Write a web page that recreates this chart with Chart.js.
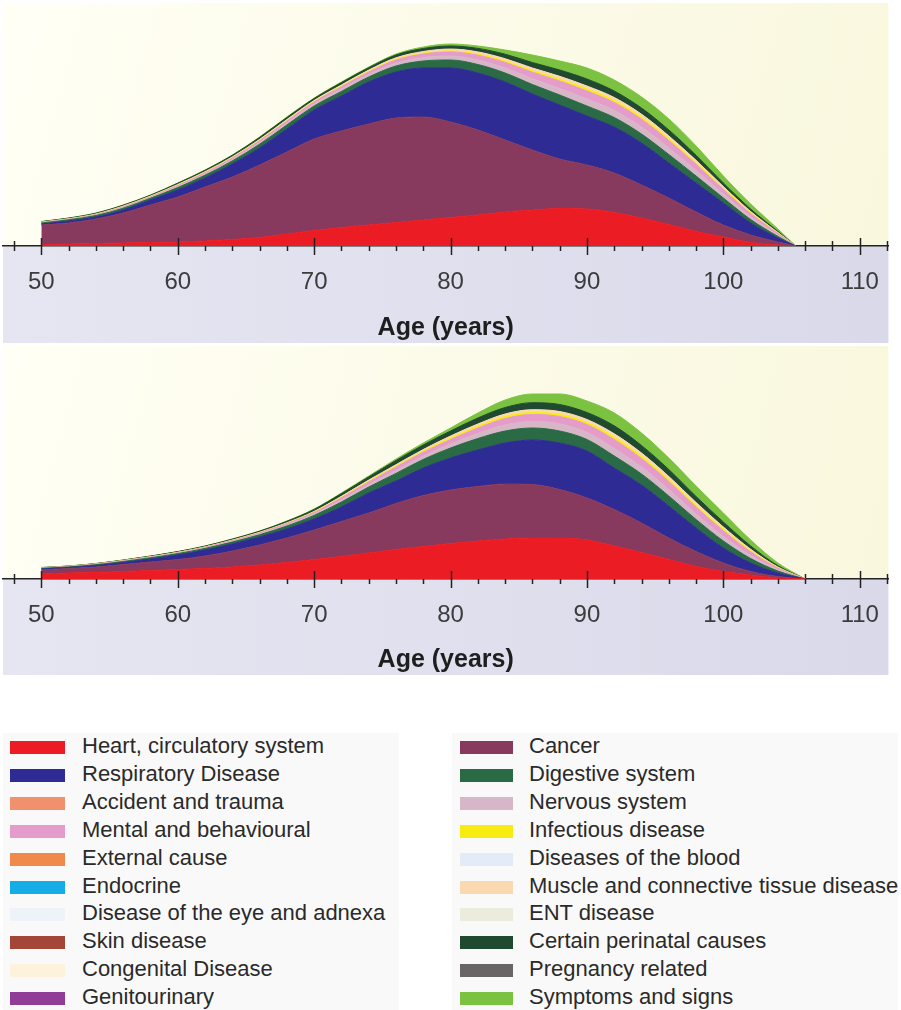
<!DOCTYPE html>
<html>
<head>
<meta charset="utf-8">
<script src="https://cdn.jsdelivr.net/npm/chart.js@4.4.0/dist/chart.umd.min.js"></script>
<style>
  body { margin: 0; width: 901px; height: 1010px; background: #fff; position: relative; overflow: hidden;
         font-family: "Liberation Sans", Arial, sans-serif; }
  .wrap { position: absolute; left: 0; width: 901px; }
  #topWrap { top: 0; height: 345px; }
  #bottomWrap { top: 345px; height: 332px; }
  .lgBox { position: absolute; top: 733px; height: 277px; background: #faf9f9; }
  .lgRow { position: absolute; height: 28px; line-height: 28px; font-size: 22px; color: #2a2a2a; white-space: nowrap; }
  .sw { position: absolute; top: 8px; height: 13px; }
  .txt { position: absolute; top: -1px; }
</style>
</head>
<body>
<div class="wrap" id="topWrap"><canvas id="topChart"></canvas></div>
<div class="wrap" id="bottomWrap"><canvas id="bottomChart"></canvas></div>
<div class="lgBox" style="left:3px;width:396px"></div>
<div class="lgBox" style="left:452px;width:446px"></div>
<div id="legend"></div>

<script>
// ages (x values) for each panel
const agesTop    = [50,52,54,56,58,60,62,64,66,68,70,72,74,76,78,80,82,84,86,88,90,92,94,96,98,100,102,104,105.3];
const agesBottom = [50,52,54,56,58,60,62,64,66,68,70,72,74,76,78,80,82,84,86,88,90,92,94,96,98,100,102,104,106];
const ageTicks = [50, 60, 70, 80, 90, 100, 110];

// top panel, stacked from the axis up
const heartTop      = [1.5,2,2.5,3,3.5,4,5,6.5,8.5,12,15.5,18.5,21,23.5,26,28.5,31,34,36,37.5,37,33.5,28,21.5,14.5,9,3.5,1,0];
const cancerTop     = [19.5,21,24.5,30,37.5,45,54,62.5,72.5,82,91.5,96.5,101,104.5,103,95.5,85,72,60,49.5,44,39.5,33,26.5,19.5,12,7.5,3,0];
const respTop       = [1,2,2,3,5,7,9,13,17,23,29,35,42,46,49,54,57,58,56,54,49,46,42,35,29,22,12,4,0];
const digestiveTop  = [1,1.2,1.5,1.8,1.8,2.5,2.8,3.1,3.8,4.1,4,4.6,5,6,7,8,8.5,9,9.5,10,10,9.5,9,8.5,7,5,3.5,1.6,0];
const nervousTop    = [0.3,0.4,0.5,0.7,0.7,1,1.2,1.4,1.7,1.9,2,2.3,2.5,3,3.5,4,4.5,5,5.8,6.5,7,7,7,6.5,5.5,4,2.8,1.3,0];
const mentalTop     = [0.3,0.3,0.5,0.7,0.7,1,1.2,1.4,1.7,1.9,2,2.3,2.5,3,3.5,4,4.8,5.6,6.5,7.5,8,8,7.8,7.5,6.3,4.6,3.2,1.5,0];
const infectiousTop = [0.1,0.1,0.1,0.2,0.2,0.3,0.3,0.3,0.4,0.4,0.5,0.6,0.6,0.7,0.8,1,1.1,1.3,1.5,1.8,2,2,2,1.8,1.5,1.1,0.8,0.4,0];
const muscleTop     = [0.2,0.3,0.4,0.5,0.5,0.7,0.8,0.9,1,1.1,1,1.2,1.3,1.5,1.7,2,2.2,2.4,2.7,2.9,3,3,3,2.8,2.4,1.7,1.2,0.6,0];
const perinatalTop  = [0.5,0.6,0.8,0.9,0.9,1.3,1.4,1.6,2,2.1,2,2.4,2.4,2.8,3,3,3.5,4.5,5.5,6.3,7,6.5,6.2,6,5,3.6,2.5,1.2,0];
const symptomsTop   = [0.1,0.1,0.2,0.2,0.2,0.2,0.3,0.3,0.4,0.5,0.5,0.6,0.7,1,1.5,2,2.4,4.2,7.5,9,11,11,11,11,9.3,7,5,2.4,0];

// bottom panel
const heartBottom      = [5,6,6.5,7.5,8.5,9.5,10.5,12,14,16.5,19.5,22.5,26,29.5,32.5,35.5,38,40,41,41,39,33,26.5,19.5,12.5,7.5,4,1,0];
const cancerBottom     = [4,4.5,5.5,7,8.5,10,12.5,16,20,24.5,29.5,35,40,46,51,53.5,54.5,55,53.5,48.5,42,36.5,29.5,21.5,15,8.5,3.5,1.5,0];
const respBottom       = [1,1,1.5,2,3,4.5,6,7,8,9,11,14.5,20,22.5,27.5,32,36.5,41,44.5,46.5,47,41.5,38,32,23.5,15,8.5,3.5,0];
const digestiveBottom  = [0.6,0.6,0.8,1,1.2,1.4,1.6,2,2.3,3,3.6,5,6,7.6,8.6,10,11.5,12,12,12,11.5,12,11,10,8.5,7,4.5,2,0];
const nervousBottom    = [0.2,0.2,0.3,0.35,0.4,0.5,0.6,0.7,0.9,1.2,1.5,2,2.4,3,3.4,4,5,6,6.5,7,7,7.5,7,6.5,5.5,4.5,3,1.3,0];
const mentalBottom     = [0.2,0.2,0.3,0.35,0.4,0.5,0.6,0.7,0.9,1.2,1.5,2.2,2.7,3.4,3.8,4.5,5.5,6.5,7,7.5,8,9,8.5,8,7,5.8,3.8,1.6,0];
const infectiousBottom = [0.05,0.05,0.05,0.1,0.1,0.1,0.1,0.2,0.2,0.3,0.4,0.6,0.7,0.9,1.1,1.5,1.7,1.9,2,2,2,2.3,2.2,2,1.8,1.5,1,0.4,0];
const muscleBottom     = [0.1,0.1,0.15,0.2,0.2,0.2,0.2,0.3,0.4,0.5,0.6,0.9,1.1,1.4,1.6,2,2.3,2.6,2.8,3,3,3.4,3.3,3,2.7,2.2,1.5,0.6,0];
const perinatalBottom  = [0.3,0.3,0.35,0.4,0.6,0.7,0.8,1,1.1,1.5,2,2.7,3.2,4.2,4.5,5,6,6.5,7,7,7,8,7.5,7,6,5,3.3,1.4,0];
const symptomsBottom   = [0.05,0.05,0.05,0.1,0.1,0.1,0.1,0.1,0.2,0.3,0.4,0.6,0.9,1.5,2,3,5,7.5,8.7,10.5,11.5,12.8,12.5,11.5,10.5,9,5.9,2.7,0];

const stackNames = ['Heart, circulatory system', 'Cancer', 'Respiratory Disease', 'Digestive system',
  'Nervous system', 'Mental and behavioural', 'Infectious disease',
  'Muscle and connective tissue disease', 'Certain perinatal causes', 'Symptoms and signs'];
const topSeries = [heartTop, cancerTop, respTop, digestiveTop, nervousTop, mentalTop,
  infectiousTop, muscleTop, perinatalTop, symptomsTop];
const bottomSeries = [heartBottom, cancerBottom, respBottom, digestiveBottom, nervousBottom, mentalBottom,
  infectiousBottom, muscleBottom, perinatalBottom, symptomsBottom];

// legend, two columns
const legendLeft = ['Heart, circulatory system', 'Respiratory Disease', 'Accident and trauma',
  'Mental and behavioural', 'External cause', 'Endocrine', 'Disease of the eye and adnexa',
  'Skin disease', 'Congenital Disease', 'Genitourinary'];
const legendRight = ['Cancer', 'Digestive system', 'Nervous system', 'Infectious disease',
  'Diseases of the blood', 'Muscle and connective tissue disease', 'ENT disease',
  'Certain perinatal causes', 'Pregnancy related', 'Symptoms and signs'];

const colours = {
  'Heart, circulatory system': '#ec1c24',
  'Respiratory Disease': '#2e2b94',
  'Accident and trauma': '#f0906c',
  'Mental and behavioural': '#e59ccb',
  'External cause': '#f0894c',
  'Endocrine': '#14ade6',
  'Disease of the eye and adnexa': '#eef3f9',
  'Skin disease': '#a34638',
  'Congenital Disease': '#fdf3dc',
  'Genitourinary': '#8f3d97',
  'Cancer': '#883a5e',
  'Digestive system': '#2a6a45',
  'Nervous system': '#d7b7c7',
  'Infectious disease': '#f7ec12',
  'Diseases of the blood': '#e3ebf7',
  'Muscle and connective tissue disease': '#fad8b0',
  'ENT disease': '#ececdc',
  'Certain perinatal causes': '#1f4a2f',
  'Pregnancy related': '#696466',
  'Symptoms and signs': '#7cc241'
};

const panelPlugin = {
  id: 'panel',
  beforeDraw(chart) {
    const { ctx, chartArea: a } = chart;
    const x = chart.scales.x;
    ctx.save();
    let g = ctx.createLinearGradient(a.left, a.top, a.right, a.bottom);
    g.addColorStop(0, '#fffff5');
    g.addColorStop(1, '#f9f7dd');
    ctx.fillStyle = g;
    ctx.fillRect(a.left, a.top, a.right - a.left, a.bottom - a.top);
    g = ctx.createLinearGradient(x.left, 0, x.right, 0);
    g.addColorStop(0, '#e6e6f2');
    g.addColorStop(1, '#d9d9ea');
    ctx.fillStyle = g;
    ctx.fillRect(x.left, x.top, x.right - x.left, x.bottom - x.top);
    ctx.restore();
  },
  beforeDatasetsDraw(chart) {
    // minor ticks every 2 years, partly hidden by the areas
    const { ctx } = chart;
    const x = chart.scales.x;
    ctx.save();
    ctx.strokeStyle = '#222';
    ctx.lineWidth = 1.5;
    for (let v = 48; v <= 112; v += 2) {
      if (v % 10 === 0) continue;
      const px = Math.round(x.getPixelForValue(v)) + 0.5;
      ctx.beginPath();
      ctx.moveTo(px, x.top - 5);
      ctx.lineTo(px, x.top + 5);
      ctx.stroke();
    }
    ctx.restore();
  },
  afterDatasetsDraw(chart) {
    const { ctx } = chart;
    const x = chart.scales.x;
    ctx.save();
    ctx.strokeStyle = '#222';
    ctx.lineWidth = 1.5;
    ageTicks.forEach(v => {
      const px = Math.round(x.getPixelForValue(v)) + 0.5;
      ctx.beginPath();
      ctx.moveTo(px, x.top - 8);
      ctx.lineTo(px, x.top + 9);
      ctx.stroke();
    });
    ctx.restore();
  }
};

function makeChart(id, ages, series, yMax, padTop, axisHeight) {
  new Chart(document.getElementById(id), {
    type: 'line',
    data: {
      datasets: series.map((vals, i) => ({
        label: stackNames[i],
        data: ages.map((a, k) => ({ x: a, y: vals[k] })),
        backgroundColor: colours[stackNames[i]],
        borderColor: colours[stackNames[i]],
        borderWidth: 1,
        pointRadius: 0,
        fill: i === 0 ? 'origin' : '-1',
        cubicInterpolationMode: 'monotone'
      }))
    },
    options: {
      responsive: true,
      maintainAspectRatio: false,
      animation: false,
      events: [],
      layout: { padding: { left: 3, right: 3, top: padTop, bottom: 2 } },
      plugins: { legend: { display: false }, tooltip: { enabled: false } },
      scales: {
        x: {
          type: 'linear',
          min: 47.19,
          max: 112.1,
          z: 1,
          afterFit: s => { s.height = axisHeight; },
          afterBuildTicks: s => { s.ticks = ageTicks.map(v => ({ value: v })); },
          grid: { display: false, drawTicks: false },
          border: { display: true, color: '#222', width: 1.5 },
          ticks: {
            padding: 22,
            maxRotation: 0,
            color: '#3c3c3c',
            font: { family: '"Liberation Sans", Arial, sans-serif', size: 24 }
          },
          title: {
            display: true,
            text: 'Age (years)',
            color: '#1e1e1e',
            padding: { top: 0, bottom: 0 },
            font: { family: '"Liberation Sans", Arial, sans-serif', size: 25, weight: 'bold' }
          }
        },
        y: { stacked: true, display: false, min: 0, max: yMax }
      }
    },
    plugins: [panelPlugin]
  });
}

makeChart('topChart', agesTop, topSeries, 243, 3, 97);
makeChart('bottomChart', agesBottom, bottomSeries, 233, 1, 96);

// legend
const legend = document.getElementById('legend');
function addColumn(names, swLeft, swWidth, textLeft) {
  names.forEach((name, i) => {
    const row = document.createElement('div');
    row.className = 'lgRow';
    row.style.top = (733 + i * 27.9) + 'px';
    row.style.left = '0px';
    row.innerHTML = '<span class="sw" style="left:' + swLeft + 'px;width:' + swWidth + 'px;background:' +
      colours[name] + '"></span><span class="txt" style="left:' + textLeft + 'px">' + name + '</span>';
    legend.appendChild(row);
  });
}
addColumn(legendLeft, 10, 55, 82);
addColumn(legendRight, 460, 53, 529);
</script>
</body>
</html>
